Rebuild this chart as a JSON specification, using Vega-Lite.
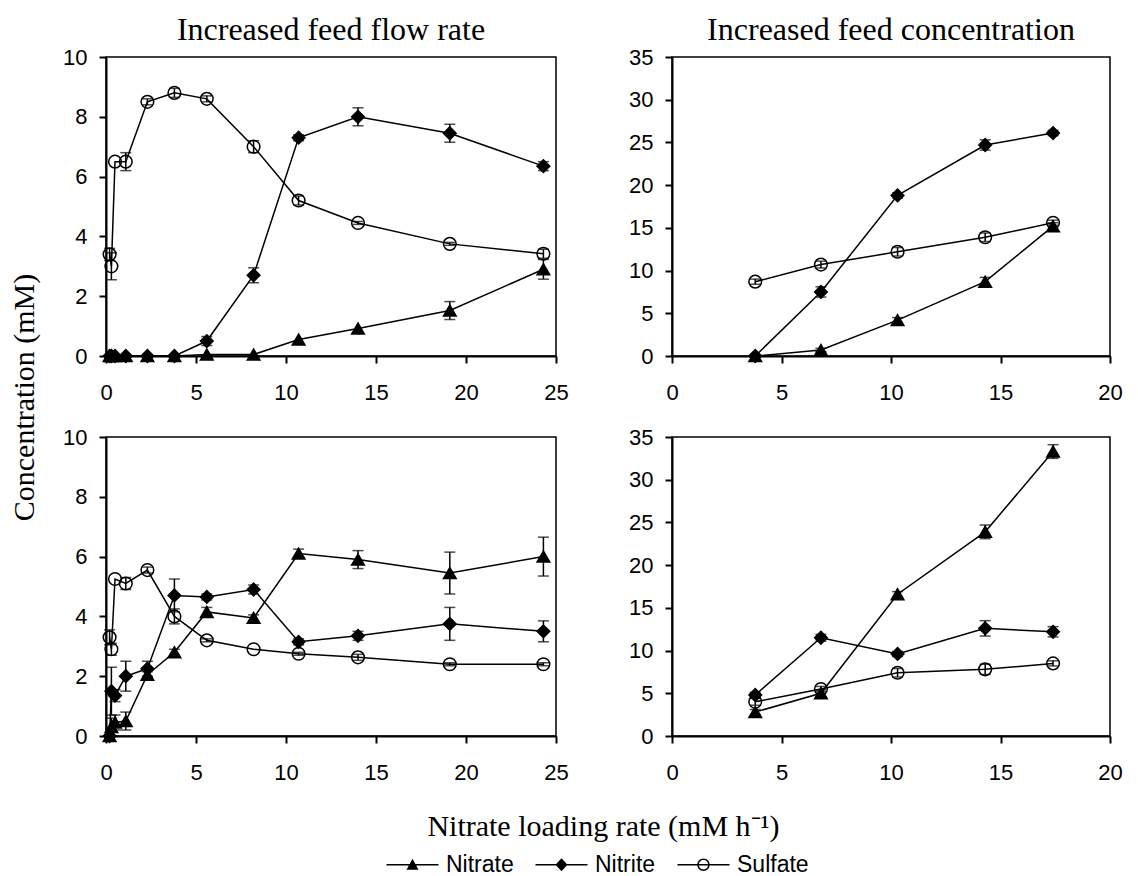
{
  "$schema": "https://vega.github.io/schema/vega-lite/v6.json",
  "padding": {"left": 8, "top": 13, "right": 5, "bottom": 0},
  "background": "white",
  "config": {
    "font": "Liberation Sans",
    "view": {"stroke": "black", "strokeWidth": 1.5},
    "axis": {"labelFont": "Liberation Sans", "labelFontSize": 22, "labelColor": "black", "labelFlush": false, "domainColor": "black", "domainWidth": 2, "tickColor": "black", "tickWidth": 2, "tickSize": 7, "grid": false, "titleFont": "Liberation Serif", "titleFontSize": 30, "titleFontWeight": "normal", "titleColor": "black"},
    "axisX": {"labelPadding": 19},
    "axisY": {"labelPadding": 12},
    "title": {"font": "Liberation Serif", "fontSize": 32, "fontWeight": "normal", "color": "black", "frame": "group", "offset": -1}
  },
  "datasets": {
    "tl": [
      {"series": "Nitrate", "x": 0.2, "y": 0, "err": 0},
      {"series": "Nitrate", "x": 0.3, "y": 0, "err": 0},
      {"series": "Nitrate", "x": 0.5, "y": 0, "err": 0},
      {"series": "Nitrate", "x": 1.1, "y": 0, "err": 0},
      {"series": "Nitrate", "x": 2.3, "y": 0, "err": 0},
      {"series": "Nitrate", "x": 3.8, "y": 0, "err": 0},
      {"series": "Nitrate", "x": 5.6, "y": 0.05, "err": 0},
      {"series": "Nitrate", "x": 8.2, "y": 0.05, "err": 0},
      {"series": "Nitrate", "x": 10.7, "y": 0.55, "err": 0},
      {"series": "Nitrate", "x": 14.0, "y": 0.92, "err": 0},
      {"series": "Nitrate", "x": 19.1, "y": 1.52, "err": 0.3},
      {"series": "Nitrate", "x": 24.3, "y": 2.9, "err": 0.33},
      {"series": "Nitrite", "x": 0.2, "y": 0, "err": 0},
      {"series": "Nitrite", "x": 0.3, "y": 0, "err": 0},
      {"series": "Nitrite", "x": 0.5, "y": 0, "err": 0},
      {"series": "Nitrite", "x": 1.1, "y": 0, "err": 0},
      {"series": "Nitrite", "x": 2.3, "y": 0, "err": 0},
      {"series": "Nitrite", "x": 3.8, "y": 0, "err": 0},
      {"series": "Nitrite", "x": 5.6, "y": 0.5, "err": 0.15},
      {"series": "Nitrite", "x": 8.2, "y": 2.7, "err": 0.25},
      {"series": "Nitrite", "x": 10.7, "y": 7.3, "err": 0.1},
      {"series": "Nitrite", "x": 14.0, "y": 8.0, "err": 0.3},
      {"series": "Nitrite", "x": 19.1, "y": 7.45, "err": 0.3},
      {"series": "Nitrite", "x": 24.3, "y": 6.35, "err": 0.15},
      {"series": "Sulfate", "x": 0.2, "y": 3.4, "err": 0.2},
      {"series": "Sulfate", "x": 0.3, "y": 3.0, "err": 0.45},
      {"series": "Sulfate", "x": 0.5, "y": 6.5, "err": 0},
      {"series": "Sulfate", "x": 1.1, "y": 6.5, "err": 0.3},
      {"series": "Sulfate", "x": 2.3, "y": 8.5, "err": 0.1},
      {"series": "Sulfate", "x": 3.8, "y": 8.8, "err": 0.15},
      {"series": "Sulfate", "x": 5.6, "y": 8.6, "err": 0.1},
      {"series": "Sulfate", "x": 8.2, "y": 7.0, "err": 0.2},
      {"series": "Sulfate", "x": 10.7, "y": 5.2, "err": 0.15},
      {"series": "Sulfate", "x": 14.0, "y": 4.45, "err": 0.05},
      {"series": "Sulfate", "x": 19.1, "y": 3.75, "err": 0.05},
      {"series": "Sulfate", "x": 24.3, "y": 3.42, "err": 0.15}
    ],
    "bl": [
      {"series": "Nitrate", "x": 0.2, "y": 0, "err": 0},
      {"series": "Nitrate", "x": 0.3, "y": 0.3, "err": 0.3},
      {"series": "Nitrate", "x": 0.5, "y": 0.45, "err": 0.25},
      {"series": "Nitrate", "x": 1.1, "y": 0.5, "err": 0.3},
      {"series": "Nitrate", "x": 2.3, "y": 2.05, "err": 0.1},
      {"series": "Nitrate", "x": 3.8, "y": 2.8, "err": 0.1},
      {"series": "Nitrate", "x": 5.6, "y": 4.15, "err": 0.15},
      {"series": "Nitrate", "x": 8.2, "y": 3.95, "err": 0.1},
      {"series": "Nitrate", "x": 10.7, "y": 6.1, "err": 0.15},
      {"series": "Nitrate", "x": 14.0, "y": 5.9, "err": 0.3},
      {"series": "Nitrate", "x": 19.1, "y": 5.45, "err": 0.7},
      {"series": "Nitrate", "x": 24.3, "y": 6.0, "err": 0.65},
      {"series": "Nitrite", "x": 0.2, "y": 0, "err": 0},
      {"series": "Nitrite", "x": 0.3, "y": 1.5, "err": 0.8},
      {"series": "Nitrite", "x": 0.5, "y": 1.35, "err": 0.2},
      {"series": "Nitrite", "x": 1.1, "y": 2.0, "err": 0.5},
      {"series": "Nitrite", "x": 2.3, "y": 2.25, "err": 0.25},
      {"series": "Nitrite", "x": 3.8, "y": 4.7, "err": 0.55},
      {"series": "Nitrite", "x": 5.6, "y": 4.65, "err": 0.1},
      {"series": "Nitrite", "x": 8.2, "y": 4.9, "err": 0.15},
      {"series": "Nitrite", "x": 10.7, "y": 3.15, "err": 0.1},
      {"series": "Nitrite", "x": 14.0, "y": 3.35, "err": 0.15},
      {"series": "Nitrite", "x": 19.1, "y": 3.75, "err": 0.55},
      {"series": "Nitrite", "x": 24.3, "y": 3.5, "err": 0.35},
      {"series": "Sulfate", "x": 0.2, "y": 3.3, "err": 0.25},
      {"series": "Sulfate", "x": 0.3, "y": 2.9, "err": 0.2},
      {"series": "Sulfate", "x": 0.5, "y": 5.25, "err": 0},
      {"series": "Sulfate", "x": 1.1, "y": 5.1, "err": 0.2},
      {"series": "Sulfate", "x": 2.3, "y": 5.55, "err": 0.1},
      {"series": "Sulfate", "x": 3.8, "y": 4.0, "err": 0.25},
      {"series": "Sulfate", "x": 5.6, "y": 3.2, "err": 0.05},
      {"series": "Sulfate", "x": 8.2, "y": 2.9, "err": 0},
      {"series": "Sulfate", "x": 10.7, "y": 2.75, "err": 0.05},
      {"series": "Sulfate", "x": 14.0, "y": 2.63, "err": 0.1},
      {"series": "Sulfate", "x": 19.1, "y": 2.4, "err": 0.05},
      {"series": "Sulfate", "x": 24.3, "y": 2.4, "err": 0.05}
    ],
    "tr": [
      {"series": "Nitrate", "x": 3.8, "y": 0, "err": 0},
      {"series": "Nitrate", "x": 6.8, "y": 0.7, "err": 0.2},
      {"series": "Nitrate", "x": 10.3, "y": 4.2, "err": 0.3},
      {"series": "Nitrate", "x": 14.3, "y": 8.7, "err": 0.5},
      {"series": "Nitrate", "x": 17.4, "y": 15.2, "err": 0.4},
      {"series": "Nitrite", "x": 3.8, "y": 0, "err": 0},
      {"series": "Nitrite", "x": 6.8, "y": 7.5, "err": 0.6},
      {"series": "Nitrite", "x": 10.3, "y": 18.8, "err": 0.3},
      {"series": "Nitrite", "x": 14.3, "y": 24.7, "err": 0.6},
      {"series": "Nitrite", "x": 17.4, "y": 26.1, "err": 0.3},
      {"series": "Sulfate", "x": 3.8, "y": 8.7, "err": 0.3},
      {"series": "Sulfate", "x": 6.8, "y": 10.7, "err": 0.4},
      {"series": "Sulfate", "x": 10.3, "y": 12.2, "err": 0.5},
      {"series": "Sulfate", "x": 14.3, "y": 13.9, "err": 0.5},
      {"series": "Sulfate", "x": 17.4, "y": 15.6, "err": 0.3}
    ],
    "br": [
      {"series": "Nitrate", "x": 3.8, "y": 2.8, "err": 0.3},
      {"series": "Nitrate", "x": 6.8, "y": 5.0, "err": 0.4},
      {"series": "Nitrate", "x": 10.3, "y": 16.6, "err": 0.3},
      {"series": "Nitrate", "x": 14.3, "y": 23.9, "err": 0.8},
      {"series": "Nitrate", "x": 17.4, "y": 33.3, "err": 0.8},
      {"series": "Nitrite", "x": 3.8, "y": 4.8, "err": 0.3},
      {"series": "Nitrite", "x": 6.8, "y": 11.5, "err": 0.4},
      {"series": "Nitrite", "x": 10.3, "y": 9.6, "err": 0.3},
      {"series": "Nitrite", "x": 14.3, "y": 12.6, "err": 0.9},
      {"series": "Nitrite", "x": 17.4, "y": 12.2, "err": 0.6},
      {"series": "Sulfate", "x": 3.8, "y": 4.0, "err": 0.4},
      {"series": "Sulfate", "x": 6.8, "y": 5.5, "err": 0.3},
      {"series": "Sulfate", "x": 10.3, "y": 7.4, "err": 0.5},
      {"series": "Sulfate", "x": 14.3, "y": 7.8, "err": 0.6},
      {"series": "Sulfate", "x": 17.4, "y": 8.5, "err": 0.3}
    ]
  },
  "columns": 2,
  "bounds": "flush",
  "spacing": {"row": 81, "column": 116},
  "concat": [
    {
      "width": 450, "height": 299,
      "title": {"text": "Increased feed flow rate"},
      "data": {"name": "tl"},
      "resolve": {"scale": {"shape": "independent", "fill": "independent"}, "legend": {"shape": "independent", "fill": "independent"}},
      "encoding": {
        "x": {"field": "x", "type": "quantitative", "scale": {"domain": [0, 25], "nice": false, "zero": false, "padding": 0}, "axis": {"values": [0, 5, 10, 15, 20, 25], "title": null}},
        "y": {"field": "y", "type": "quantitative", "scale": {"domain": [0, 10], "nice": false, "padding": 0}, "axis": {"values": [0, 2, 4, 6, 8, 10], "title": "Concentration (mM)", "titleX": -73, "titleY": 340, "titleAngle": 270, "titleAlign": "center", "titleBaseline": "alphabetic"}}
      },
      "layer": [
        {"mark": {"type": "line", "color": "black", "strokeWidth": 1.5}, "encoding": {"detail": {"field": "series"}}},
        {"transform": [{"filter": "datum.err > 0"}], "mark": {"type": "errorbar", "color": "black", "thickness": 1.5, "ticks": {"size": 11}}, "encoding": {"yError": {"field": "err"}, "detail": {"field": "series"}}},
        {"mark": {"type": "point", "stroke": "black", "strokeWidth": 1.5, "opacity": 1, "size": 160, "filled": true},
         "encoding": {
           "shape": {"field": "series", "type": "nominal", "scale": {"domain": ["Nitrate", "Nitrite", "Sulfate"], "range": ["triangle-up", "diamond", "circle"]}, "legend": null},
           "fill": {"field": "series", "type": "nominal", "scale": {"domain": ["Nitrate", "Nitrite", "Sulfate"], "range": ["black", "black", "transparent"]}, "legend": null}
         }},
        {"transform": [{"filter": "datum.x < 0"}],
         "mark": {"type": "point", "fill": "black", "strokeWidth": 0, "opacity": 1, "filled": true},
         "encoding": {
           "shape": {"field": "series", "type": "nominal", "scale": {"domain": ["Nitrate", "Nitrite", "Sulfate"], "range": [
             "M-2.6,-0.08H2.6V0.08H-2.6ZM-0.6,0.5L0,-0.6L0.6,0.5Z",
             "M-2.6,-0.08H2.6V0.08H-2.6ZM-0.6,0L0,-0.65L0.6,0L0,0.65Z",
             "M-2.6,-0.08H2.6V0.08H-2.6ZM-0.62,0A0.62 0.62 0 1 1 0.62,0A0.62 0.62 0 1 1 -0.62,0ZM-0.47,0A0.47 0.47 0 1 0 0.47,0A0.47 0.47 0 1 0 -0.47,0Z"
           ]},
             "legend": {"title": null, "orient": "none", "legendX": 295, "legendY": 796, "direction": "horizontal", "columns": 3, "symbolSize": 400, "symbolFillColor": "black", "symbolStrokeWidth": 0, "symbolOpacity": 1, "labelFont": "Liberation Sans", "labelFontSize": 23, "labelColor": "black", "labelOffset": 22, "columnPadding": 21}}
         }},
        {"data": {"values": [{"label": "Top"}]}, "mark": {"type": "text", "font": "Liberation Sans", "fontSize": 24, "fontWeight": "bold", "color": "black"}, "encoding": {"x": {"datum": 12.5}, "y": {"datum": 8.9}, "text": {"field": "label"}}}
      ]
    },
    {
      "width": 438, "height": 299,
      "title": {"text": "Increased feed concentration"},
      "data": {"name": "tr"},
      "encoding": {
        "x": {"field": "x", "type": "quantitative", "scale": {"domain": [0, 20], "nice": false, "zero": false, "padding": 0}, "axis": {"values": [0, 5, 10, 15, 20], "title": null}},
        "y": {"field": "y", "type": "quantitative", "scale": {"domain": [0, 35], "nice": false, "padding": 0}, "axis": {"values": [0, 5, 10, 15, 20, 25, 30, 35], "title": null}}
      },
      "layer": [
        {"mark": {"type": "line", "color": "black", "strokeWidth": 1.5}, "encoding": {"detail": {"field": "series"}}},
        {"transform": [{"filter": "datum.err > 0"}], "mark": {"type": "errorbar", "color": "black", "thickness": 1.5, "ticks": {"size": 11}}, "encoding": {"yError": {"field": "err"}, "detail": {"field": "series"}}},
        {"mark": {"type": "point", "stroke": "black", "strokeWidth": 1.5, "opacity": 1, "size": 160, "filled": true},
         "encoding": {
           "shape": {"field": "series", "type": "nominal", "scale": {"domain": ["Nitrate", "Nitrite", "Sulfate"], "range": ["triangle-up", "diamond", "circle"]}, "legend": null},
           "fill": {"field": "series", "type": "nominal", "scale": {"domain": ["Nitrate", "Nitrite", "Sulfate"], "range": ["black", "black", "transparent"]}, "legend": null}
         }},
        {"data": {"values": [{"label": "Top"}]}, "mark": {"type": "text", "font": "Liberation Sans", "fontSize": 24, "fontWeight": "bold", "color": "black"}, "encoding": {"x": {"datum": 9.7}, "y": {"datum": 30.6}, "text": {"field": "label"}}}
      ]
    },
    {
      "width": 450, "height": 299,
      "data": {"name": "bl"},
      "encoding": {
        "x": {"field": "x", "type": "quantitative", "scale": {"domain": [0, 25], "nice": false, "zero": false, "padding": 0}, "axis": {"values": [0, 5, 10, 15, 20, 25], "title": "Nitrate loading rate (mM h⁻¹)", "titleX": 497, "titleY": 99, "titleAlign": "center", "titleBaseline": "alphabetic"}},
        "y": {"field": "y", "type": "quantitative", "scale": {"domain": [0, 10], "nice": false, "padding": 0}, "axis": {"values": [0, 2, 4, 6, 8, 10], "title": null}}
      },
      "layer": [
        {"mark": {"type": "line", "color": "black", "strokeWidth": 1.5}, "encoding": {"detail": {"field": "series"}}},
        {"transform": [{"filter": "datum.err > 0"}], "mark": {"type": "errorbar", "color": "black", "thickness": 1.5, "ticks": {"size": 11}}, "encoding": {"yError": {"field": "err"}, "detail": {"field": "series"}}},
        {"mark": {"type": "point", "stroke": "black", "strokeWidth": 1.5, "opacity": 1, "size": 160, "filled": true},
         "encoding": {
           "shape": {"field": "series", "type": "nominal", "scale": {"domain": ["Nitrate", "Nitrite", "Sulfate"], "range": ["triangle-up", "diamond", "circle"]}, "legend": null},
           "fill": {"field": "series", "type": "nominal", "scale": {"domain": ["Nitrate", "Nitrite", "Sulfate"], "range": ["black", "black", "transparent"]}, "legend": null}
         }},
        {"data": {"values": [{"label": "Bottom"}]}, "mark": {"type": "text", "font": "Liberation Sans", "fontSize": 24, "fontWeight": "bold", "color": "black"}, "encoding": {"x": {"datum": 13.2}, "y": {"datum": 8.85}, "text": {"field": "label"}}}
      ]
    },
    {
      "width": 438, "height": 299,
      "data": {"name": "br"},
      "encoding": {
        "x": {"field": "x", "type": "quantitative", "scale": {"domain": [0, 20], "nice": false, "zero": false, "padding": 0}, "axis": {"values": [0, 5, 10, 15, 20], "title": null}},
        "y": {"field": "y", "type": "quantitative", "scale": {"domain": [0, 35], "nice": false, "padding": 0}, "axis": {"values": [0, 5, 10, 15, 20, 25, 30, 35], "title": null}}
      },
      "layer": [
        {"mark": {"type": "line", "color": "black", "strokeWidth": 1.5}, "encoding": {"detail": {"field": "series"}}},
        {"transform": [{"filter": "datum.err > 0"}], "mark": {"type": "errorbar", "color": "black", "thickness": 1.5, "ticks": {"size": 11}}, "encoding": {"yError": {"field": "err"}, "detail": {"field": "series"}}},
        {"mark": {"type": "point", "stroke": "black", "strokeWidth": 1.5, "opacity": 1, "size": 160, "filled": true},
         "encoding": {
           "shape": {"field": "series", "type": "nominal", "scale": {"domain": ["Nitrate", "Nitrite", "Sulfate"], "range": ["triangle-up", "diamond", "circle"]}, "legend": null},
           "fill": {"field": "series", "type": "nominal", "scale": {"domain": ["Nitrate", "Nitrite", "Sulfate"], "range": ["black", "black", "transparent"]}, "legend": null}
         }},
        {"data": {"values": [{"label": "Bottom"}]}, "mark": {"type": "text", "font": "Liberation Sans", "fontSize": 24, "fontWeight": "bold", "color": "black"}, "encoding": {"x": {"datum": 10.1}, "y": {"datum": 31.6}, "text": {"field": "label"}}}
      ]
    }
  ]
}
